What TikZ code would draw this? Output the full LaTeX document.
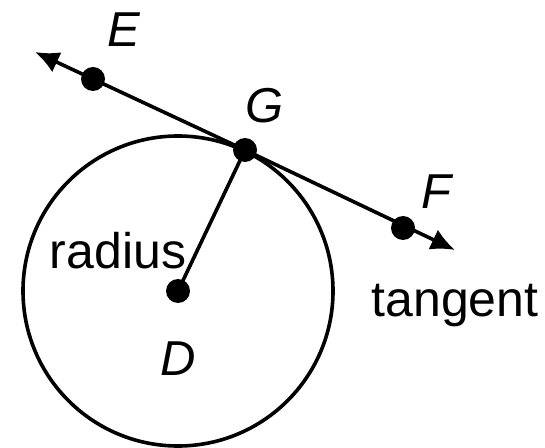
\documentclass[tikz,border=0pt]{standalone}
\usepackage{fontspec}
\setmainfont{Liberation Sans}
\usetikzlibrary{arrows.meta,positioning}
\tikzset{
  pt/.style={circle, fill=black, inner sep=0pt, minimum size=12pt},
  lbl/.style={inner sep=0pt, font=\fontsize{24.5}{28}\selectfont\itshape},
  word/.style={inner sep=0pt, font=\fontsize{25}{28}\selectfont},
  seg/.style={line width=1.8pt},
  ray/.style={line width=1.8pt, {Latex[length=12pt,width=11pt]}-{Latex[length=12pt,width=11pt]}}
}
\begin{document}
\begin{tikzpicture}[x=0.5pt,y=-0.5pt]
  \useasboundingbox (0,0) rectangle (545,448);
  % circle and radius
  \draw[seg] (178,291) circle[radius=155];
  \node[pt] (d) at (178,291) {};
  \node[pt] (g) at (245,150) {};
  \draw[seg] (d.center) -- (g.center);

  % tangent line
  \coordinate (etip) at (35,52);
  \coordinate (ftip) at (455,250);
  \node[pt] (e) at (93,79) {};
  \node[pt] (f) at (403,228) {};
  \draw[ray] (etip) -- (g.center) -- (ftip);

  % labels
  \node[lbl,on grid,above right=24.5pt and 15.5pt of e] (elabel) {E};
  \node[lbl,on grid,above right=22pt and 10pt of g] (glabel) {G};
  \node[lbl,on grid,above right=18pt and 16.5pt of f] (flabel) {F};
  \node[lbl,on grid,below=34pt of d] (dlabel) {D};
  \node[word,on grid,above left=20pt and 30pt of d] (rlabel) {radius};
  \node[word,on grid,below=17pt of ftip] (tlabel) {tangent};
\end{tikzpicture}
\end{document}
